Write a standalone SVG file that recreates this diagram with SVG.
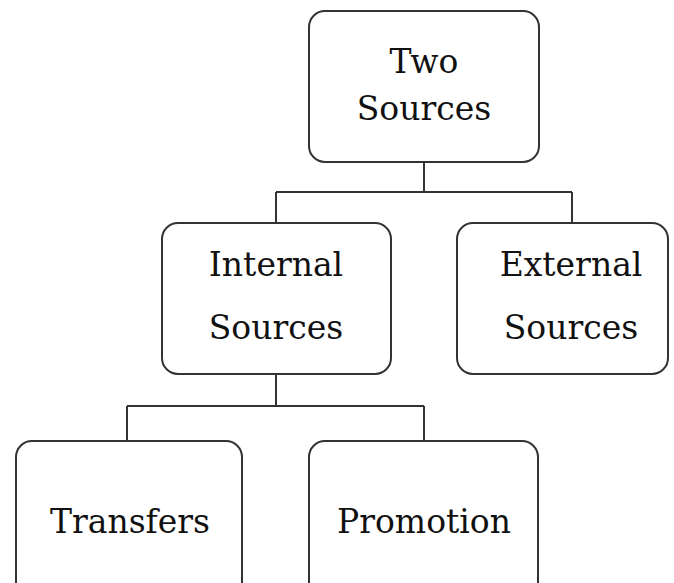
<svg xmlns="http://www.w3.org/2000/svg" width="674" height="583" viewBox="0 0 674 583">
<style>
.box{fill:#fff;stroke:#333;stroke-width:2}
.lbl{font-family:"DejaVu Serif","Liberation Serif",serif;font-size:33px;fill:#111;text-anchor:middle}
.con{fill:none;stroke:#333;stroke-width:2}
</style>
<rect width="674" height="583" fill="#fff"/>
<g id="connectors">
<path class="con" d="M424,162 V192 M276,192 H572 M276,192 V223 M572,192 V223"/>
<path class="con" d="M276,374 V406 M127,406 H424 M127,406 V441 M424,406 V441"/>
</g>
<g id="two-sources">
<rect class="box" x="309" y="11" width="230" height="151" rx="16"/>
<text class="lbl" x="424" y="73">Two</text>
<text class="lbl" x="424" y="120">Sources</text>
</g>
<g id="internal-sources">
<rect class="box" x="162" y="223" width="229" height="151" rx="16"/>
<text class="lbl" x="276" y="276">Internal</text>
<text class="lbl" x="276" y="339">Sources</text>
</g>
<g id="external-sources">
<rect class="box" x="457" y="223" width="211" height="151" rx="16"/>
<text class="lbl" x="571" y="276">External</text>
<text class="lbl" x="571" y="339">Sources</text>
</g>
<g id="transfers">
<rect class="box" x="16" y="441" width="226" height="160" rx="16"/>
<text class="lbl" x="130" y="533">Transfers</text>
</g>
<g id="promotion">
<rect class="box" x="309" y="441" width="229" height="160" rx="16"/>
<text class="lbl" x="424" y="533">Promotion</text>
</g>
</svg>
